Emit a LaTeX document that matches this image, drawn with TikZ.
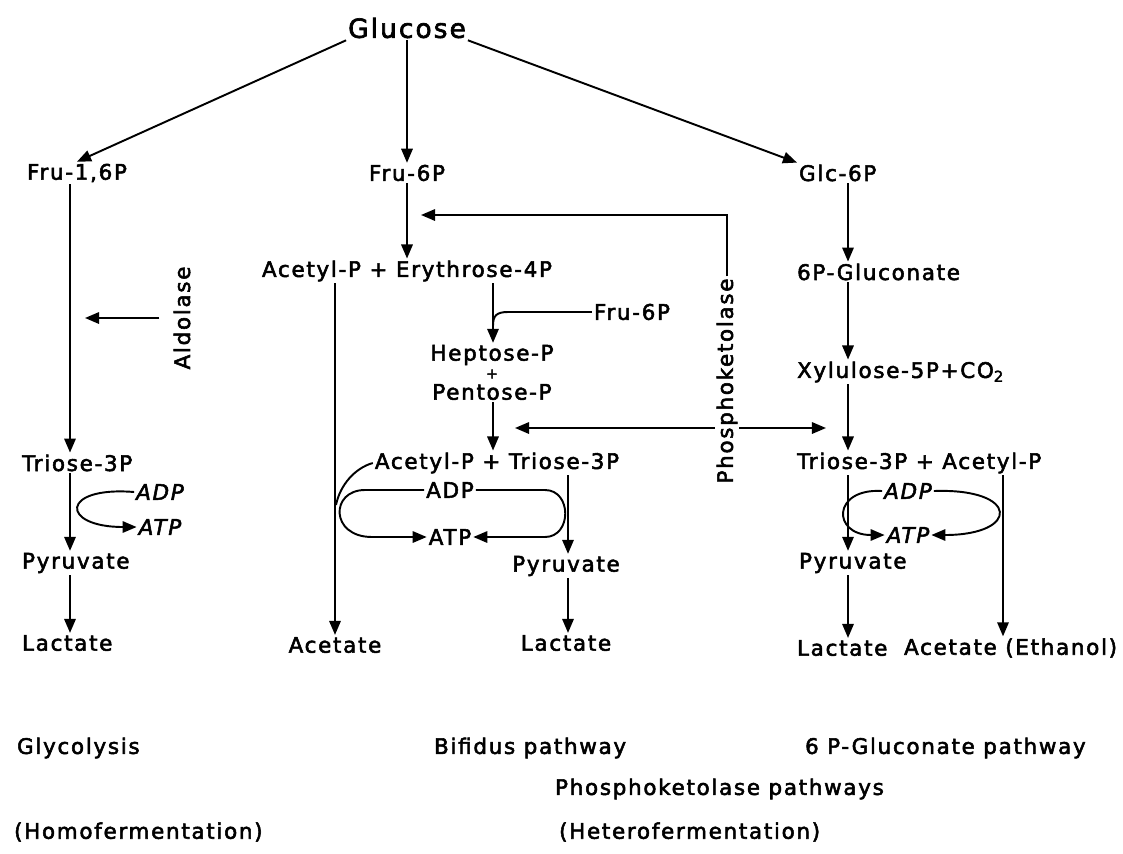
\documentclass[tikz,border=0pt]{standalone}
\usepackage{fontspec}
\setmainfont{DejaVu Sans}[LetterSpace=8,FakeBold=2.5]
\usetikzlibrary{arrows.meta}
\tikzset{
  met/.style={inner sep=1pt, font=\fontsize{12.2}{14}\selectfont},
  big/.style={inner sep=1pt, font=\fontsize{15}{17}\selectfont},
  cof/.style={inner sep=1pt, font=\fontsize{12.2}{14}\selectfont\itshape},
  flow/.style={-{Triangle[length=8pt,width=6.5pt]}, line width=1.1pt},
  link/.style={line width=1.1pt},
}
\begin{document}
\begin{tikzpicture}[x=0.02cm,y=-0.02cm]
			\useasboundingbox (0,0) rectangle (1123,853);
			\coordinate (colL) at (70,0);
			\coordinate (colA) at (335,0);
			\coordinate (colM) at (493,0);
			\coordinate (colP) at (568,0);
			\coordinate (colR) at (848,0);
			\coordinate (colE) at (1003,0);
			\node[big] (glc) at (407,28) {Glucose};
			\node[met] (fbp) at (77,173) {Fru-1,6P};
			\node[met] (f6p) at (407,173) {Fru-6P};
			\node[met,anchor=west] (g6p) at (797,173) {Glc-6P};
			\draw[flow] (glc.south west) -- (fbp.north);
			\draw[flow] (glc) -- (f6p);
			\draw[flow] (glc.south east) -- (g6p.north west);
			\node[met,anchor=west] (t3l) at (20,463) {Triose-3P};
			\draw[flow] (fbp.south -| colL) -- (t3l.north -| colL);
			\node[met,rotate=90] (ald) at (182,318) {Aldolase};
			\coordinate (aldin) at (85,318);
			\draw[flow] ([xshift=-7pt]ald.north) -- (aldin);
			\node[cof] (adpl) at (160,492) {ADP};
			\node[cof] (atpl) at (160,527) {ATP};
			\draw[flow] (adpl.west) .. controls (60,486) and (60,527) .. (atpl.west);
			\node[met,anchor=west] (pyl) at (20,563) {Pyruvate};
			\draw[flow] (t3l.south -| colL) -- (pyl.north -| colL);
			\node[met,anchor=west] (lacl) at (20,643) {Lactate};
			\draw[flow] (pyl.south -| colL) -- (lacl.north -| colL);
			\node[met] (ae4) at (407,271) {Acetyl-P + Erythrose-4P};
			\draw[flow] (f6p) -- (ae4);
			\node[met,rotate=90] (pk) at (727,381) {Phosphoketolase};
			\coordinate (pkin) at (421,215);
			\coordinate (hpin) at (515,428);
			\coordinate (xyin) at (826,428);
			\draw[flow] (pk.east) |- (pkin);
			\draw[flow] (pk.north |- hpin) -- (hpin);
			\draw[flow] (pk.south |- xyin) -- (xyin);
			\node[met] (f6pb) at (632,312) {Fru-6P};
			\node[met] (hep) at (492,355) {Heptose-P};
			\node[inner sep=0pt,font=\fontsize{8}{8}\selectfont] (plus) at (492,374) {+};
			\node[met] (pen) at (492,392) {Pentose-P};
			\draw[flow] (ae4.south -| colM) -- (hep.north -| colM);
			\draw[link] (f6pb.west) -- (508,312) .. controls (496,312) and (493,316) .. (493,326);
			\node[met] (at3) at (497,463) {Acetyl-P + Triose-3P};
			\draw[flow] (pen.south -| colM) -- (at3.north -| colM);
			\node[met] (acm) at (335,645) {Acetate};
			\draw[flow] (ae4.south -| colA) -- (acm.north);
			\node[met] (adpm) at (450,490) {ADP};
			\node[met] (atpm) at (450,537) {ATP};
			\draw[link] (at3.west) .. controls (355,468) and (340,485) .. (336,505);
			\draw[flow] (adpm.west) -- (365,490) .. controls (330,490) and (330,537) .. (372,537) -- (atpm.west);
			\draw[flow] (adpm.east) -- (545,490) .. controls (572,490) and (572,537) .. (545,537) -- (atpm.east);
			\node[met] (pym) at (566,566) {Pyruvate};
			\draw[flow] (at3.south -| colP) -- (pym.north -| colP);
			\node[met] (lacm) at (566,643) {Lactate};
			\draw[flow] (pym.south -| colP) -- (lacm.north -| colP);
			\node[met,anchor=west] (glu) at (795,272) {6P-Gluconate};
			\draw[flow] (g6p.south -| colR) -- (glu.north -| colR);
			\node[met,anchor=west] (xyl) at (795,372) {Xylulose-5P+CO\textsubscript{2}};
			\draw[flow] (glu.south -| colR) -- (xyl.north -| colR);
			\node[met,anchor=west] (tar) at (795,463) {Triose-3P + Acetyl-P};
			\draw[flow] (xyl.south -| colR) -- (tar.north -| colR);
			\node[cof] (adpr) at (908,491) {ADP};
			\node[cof] (atpr) at (908,535) {ATP};
			\draw[flow] (adpr.west) .. controls (832,488) and (832,535) .. (atpr.west);
			\draw[flow] (adpr.east) .. controls (1020,488) and (1020,535) .. (atpr.east);
			\node[met,anchor=west] (pyr) at (797,563) {Pyruvate};
			\draw[flow] (tar.south -| colR) -- (pyr.north -| colR);
			\node[met,anchor=west] (lacr) at (795,648) {Lactate};
			\draw[flow] (pyr.south -| colR) -- (lacr.north -| colR);
			\node[met,anchor=west] (acr) at (902,648) {Acetate (Ethanol)};
			\draw[flow] (tar.south -| colE) -- (acr.north -| colE);
			\node[met,anchor=west] (lbgly) at (15,748) {Glycolysis};
			\node[met,anchor=west] (lbbif) at (432,748) {Bifidus pathway};
			\node[met,anchor=west] (lbgluc) at (803,748) {6 P-Gluconate pathway};
			\node[met,anchor=west] (lbpk) at (553,789) {Phosphoketolase pathways};
			\node[met,anchor=west] (lbhomo) at (12,832) {(Homofermentation)};
			\node[met,anchor=west] (lbhet) at (557,832) {(Heterofermentation)};
\end{tikzpicture}
\end{document}
